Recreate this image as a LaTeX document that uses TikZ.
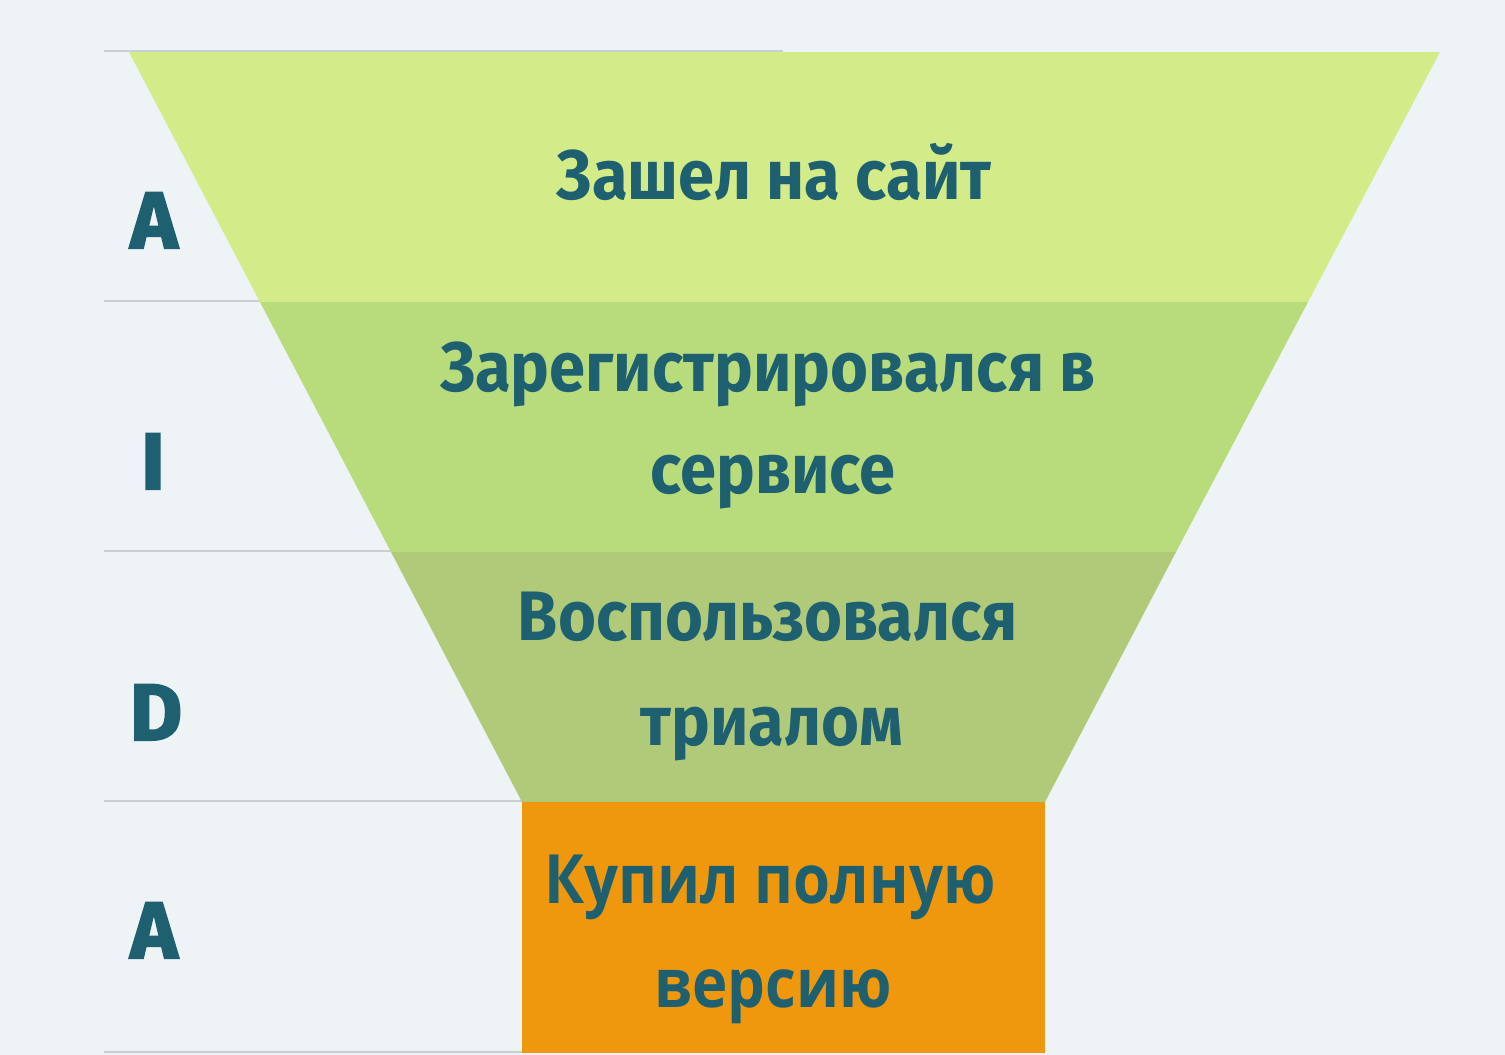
\documentclass[tikz,border=0pt]{standalone}
\usepackage{fontspec}
\setmainfont{Fira Sans}
\newfontfamily\stagefont{Fira Sans}[UprightFont=* Bold]
\newfontfamily\buyfont{Open Sans}[UprightFont=* Bold]
\newfontfamily\letterfont{Fira Sans}[UprightFont=* Bold, FakeBold=2.5]
\definecolor{bgc}{HTML}{EEF3F6}
\definecolor{rulec}{HTML}{C9CFD1}
\definecolor{gA}{HTML}{D3EB88}
\definecolor{gB}{HTML}{B8DB7B}
\definecolor{gC}{HTML}{B1CA7A}
\definecolor{orng}{HTML}{F0980D}
\definecolor{txtc}{HTML}{1E6070}
\newcommand{\narrowA}[1]{\scalebox{0.93}[1]{#1}}
\newcommand{\narrowB}[1]{\scalebox{0.88}[1]{#1}}
\begin{document}
\begin{tikzpicture}[x=1pt,y=-1pt,
  sepline/.style={draw=rulec,line width=2pt},
  stagetxt/.style={anchor=base,inner sep=0pt,text=txtc,font=\stagefont\fontsize{70}{84}\selectfont},
  buytxt/.style={anchor=base,inner sep=0pt,text=txtc,font=\buyfont\fontsize{68}{80}\selectfont},
  lettertxt/.style={anchor=base,inner sep=0pt,text=txtc,font=\letterfont\fontsize{80}{90}\selectfont}]
\useasboundingbox (0,0) rectangle (1505,1055);
\fill[bgc] (0,0) rectangle (1505,1055);
% separator lines
\coordinate (l0a) at (104,51);  \coordinate (l0b) at (783,51);
\coordinate (l1a) at (104,301); \coordinate (l1b) at (783,301);
\coordinate (l2a) at (104,551); \coordinate (l2b) at (783,551);
\coordinate (l3a) at (104,801); \coordinate (l3b) at (783,801);
\coordinate (l4a) at (104,1052); \coordinate (l4b) at (783,1052);
\foreach \i in {0,...,4} \draw[sepline] (l\i a) -- (l\i b);
% funnel
\fill[gA] (129,52) -- (1440,52) -- (1308,302) -- (260,302) -- cycle;
\fill[gB] (260,302) -- (1308,302) -- (1176,552) -- (391,552) -- cycle;
\fill[gC] (391,552) -- (1176,552) -- (1045,802) -- (522,802) -- cycle;
\fill[orng] (522,802) rectangle (1045,1053);
% stage texts
\node[stagetxt] (t1) at (774,199) {\narrowA{Зашел на сайт}};
\node[stagetxt] (t2a) at (768,391) {\narrowA{Зарегистрировался в}};
\node[stagetxt] (t2b) at (773,493) {\narrowA{сервисе}};
\node[stagetxt] (t3a) at (768,640) {\narrowA{Воспользовался}};
\node[stagetxt] (t3b) at (772,745) {\narrowA{триалом}};
\node[buytxt] (t4a) at (770,903) {\narrowB{Купил полную}};
\node[buytxt] (t4b) at (773,1007) {\narrowB{версию}};
% AIDA letters
\node[lettertxt] (la) at (154,248) {A};
\node[lettertxt] (li) at (153,489) {I};
\node[lettertxt] (ld) at (156,740) {D};
\node[lettertxt] (la2) at (154,958) {A};
\end{tikzpicture}
\end{document}
